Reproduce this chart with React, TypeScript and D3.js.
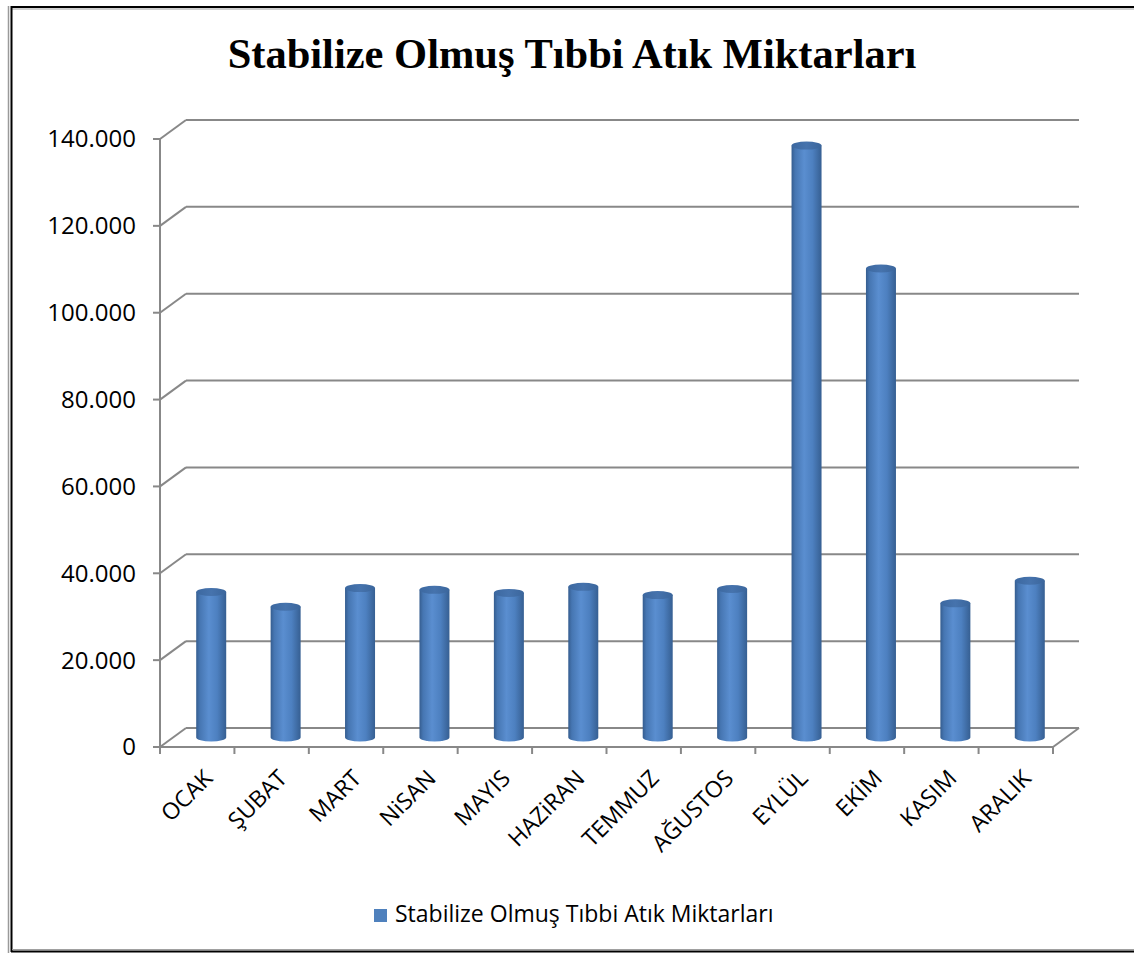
import React from 'react'
import * as d3 from 'd3'

const months = ['OCAK', 'ŞUBAT', 'MART', 'NiSAN', 'MAYIS', 'HAZiRAN', 'TEMMUZ', 'AĞUSTOS', 'EYLÜL', 'EKİM', 'KASIM', 'ARALIK']
const amounts = [33500, 30100, 34400, 34000, 33300, 34700, 32800, 34200, 136300, 108000, 30900, 36100]
const yTicks = [0, 20000, 40000, 60000, 80000, 100000, 120000, 140000]
const seriesName = 'Stabilize Olmuş Tıbbi Atık Miktarları'
const title = 'Stabilize Olmuş Tıbbi Atık Miktarları'

const W = 1134
const H = 953
const depthX = 26
const depthY = -19
const grid = '#888888'
const labelFont = '"Open Sans", "Noto Sans", sans-serif'

const fmt = (v: number) => (v === 0 ? '0' : d3.format(',')(v).replace(/,/g, '.'))

export default function App() {
  const x = d3.scaleBand<string>().domain(months).range([160, 1053]).padding(0)
  const y = d3.scaleLinear().domain([0, 140000]).range([747, 139])

  const bw = x.bandwidth()
  const rx = 15
  const ry = 4
  const midX = depthX / 2 + 1
  const midY = depthY / 2

  return (
    <svg width={W} height={H} style={{ position: 'absolute', left: 0, top: 0 }}
      fontFamily={labelFont}>
      <defs>
        <linearGradient id="cyl" x1="0" x2="1" y1="0" y2="0">
          <stop offset="0" stopColor="#355d8f" />
          <stop offset="0.12" stopColor="#4676b2" />
          <stop offset="0.42" stopColor="#5a8ed0" />
          <stop offset="0.7" stopColor="#4d80c0" />
          <stop offset="1" stopColor="#365f92" />
        </linearGradient>
        <linearGradient id="cap" x1="0" x2="1" y1="0" y2="0">
          <stop offset="0" stopColor="#3c68a0" />
          <stop offset="0.5" stopColor="#4673ad" />
          <stop offset="1" stopColor="#3b669c" />
        </linearGradient>
      </defs>
      <rect width={W} height={H} fill="#fff" />

      {/* frame */}
      <line x1={8.5} x2={8.5} y1={6} y2={H} stroke="#9a9a9a" strokeWidth={1.5} />
      <line x1={11} x2={W} y1={7} y2={7} stroke="#000" strokeWidth={2} />
      <line x1={12} x2={W} y1={9} y2={9} stroke="#a0a0a0" strokeWidth={1} />
      <line x1={11.5} x2={11.5} y1={6} y2={952} stroke="#000" strokeWidth={2} />
      <line x1={12} x2={W} y1={949.5} y2={949.5} stroke="#a0a0a0" strokeWidth={1} />
      <line x1={11} x2={W} y1={951.5} y2={951.5} stroke="#000" strokeWidth={2} />

      <text x={572} y={68} textAnchor="middle" fontFamily='"Liberation Serif", "Times New Roman", serif'
        fontWeight="bold" fontSize={42.5}>{title}</text>

      {/* back wall gridlines + left wall diagonals */}
      {yTicks.map((t) => (
        <g key={t}>
          <line x1={160 + depthX} x2={1053 + depthX} y1={y(t) + depthY} y2={y(t) + depthY}
            stroke={grid} strokeWidth={2} />
          <line x1={160} x2={160 + depthX} y1={y(t)} y2={y(t) + depthY} stroke={grid} strokeWidth={2} />
          <line x1={153} x2={160} y1={y(t)} y2={y(t)} stroke={grid} strokeWidth={2} />
          <text x={136} y={y(t)} dy="0.35em" textAnchor="end" fontSize={24} fill="#000">{fmt(t)}</text>
        </g>
      ))}
      <line x1={160} x2={160} y1={y(140000)} y2={753} stroke={grid} strokeWidth={2} />
      {/* floor */}
      <line x1={160} x2={1053} y1={y(0)} y2={y(0)} stroke={grid} strokeWidth={2} />
      <line x1={1053} x2={1053 + depthX} y1={y(0)} y2={y(0) + depthY} stroke={grid} strokeWidth={2} />
      {d3.range(months.length + 1).map((i) => {
        const xx = 160 + i * bw
        return <line key={i} x1={xx} x2={xx} y1={y(0)} y2={754} stroke={grid} strokeWidth={2} />
      })}

      {/* cylinders */}
      {months.map((m, i) => {
        const cx = (x(m) as number) + bw / 2 + midX
        const base = y(0) + midY
        const top = y(amounts[i]) + midY
        const body = `M${cx - rx},${top} L${cx - rx},${base} A${rx},${ry} 0 0 0 ${cx + rx},${base} L${cx + rx},${top} Z`
        return (
          <g key={m}>
            <path d={body} fill="url(#cyl)" />
            <ellipse cx={cx} cy={top} rx={rx} ry={ry} fill="url(#cap)" />
          </g>
        )
      })}

      {/* category labels */}
      {months.map((m) => {
        const cx = (x(m) as number) + bw / 2 + 5
        return (
          <text key={m} transform={`translate(${cx},768) rotate(-45)`} dy="0.72em" textAnchor="end"
            fontSize={23} fill="#000">{m}</text>
        )
      })}

      {/* legend */}
      <rect x={374} y={909} width={13} height={13} fill="#4f81bd" />
      <text x={395} y={922} fontSize={23} fill="#000">{seriesName}</text>
    </svg>
  )
}
